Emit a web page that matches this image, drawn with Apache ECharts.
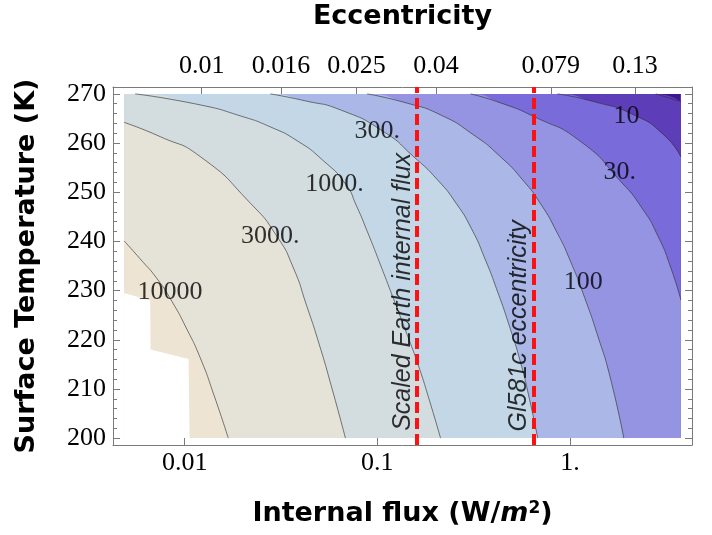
<!DOCTYPE html>
<html>
<head>
<meta charset="utf-8">
<script src="https://cdn.jsdelivr.net/npm/echarts@6/dist/echarts.min.js"></script>
<style>
html,body{margin:0;padding:0;background:#ffffff;}
#chart{width:712px;height:535px;}
</style>
</head>
<body>
<div id="chart"></div>
<script>
// ---------------- DATA ----------------
// Extent of the computed grid (internal flux in W/m^2, temperature in K)
const fluxRange = [0.004848, 3.762];
const tempRange = [200, 270];

// Contour lines: [internal flux, surface temperature]
const c10000 = [[0.004848,240.1],[0.005871,236.45],[0.007197,232.38],[0.008610,227.71],[0.01018,222.42],[0.01204,216.32],[0.01423,208.59],[0.01683,200]];
const c3000 = [[0.004848,264.2],[0.007461,261.3],[0.01204,257.25],[0.02189,247.8],[0.03014,241.0],[0.03664,234.62],[0.04280,227.10],[0.05001,218.96],[0.05842,209.8],[0.06827,200]];
const c1000 = [[0.005530,270],[0.01204,267.76],[0.01943,265.53],[0.02782,263.29],[0.03843,260.44],[0.05184,256.58],[0.06827,251.70],[0.07789,247.23],[0.08882,241.94],[0.1038,235.23],[0.1213,228.32],[0.1416,221.40],[0.1635,214.69],[0.1866,207.58],[0.2128,200]];
const c300 = [[0.02782,270],[0.04229,268.58],[0.06429,266.75],[0.1076,262.33],[0.1540,257.25],[0.2053,252.51],[0.2577,247.63],[0.3083,242.55],[0.3602,236.65],[0.4210,229.74],[0.4860,222.62],[0.5544,215.30],[0.6172,207.78],[0.6796,200]];
const c100 = [[0.08851,270],[0.1429,268.11],[0.2128,265.73],[0.3158,261.66],[0.4363,257.19],[0.5678,252.51],[0.7041,247.63],[0.8529,241.94],[1.0084,235.84],[1.1923,228.52],[1.3932,220.79],[1.6087,212.66],[1.9013,200]];
const c30 = [[0.3047,270],[0.4363,268.17],[0.6500,265.38],[1.1364,260.30],[1.8344,252.17],[2.359,246.82],[2.857,241.13],[3.337,234.62],[3.762,228.1]];
const c10 = [[0.8604,270],[1.3283,268.43],[2.143,265.73],[3.070,261.66],[3.762,257.19]];
const c3 = [[2.789,270],[3.762,268.43]];
// Region without data (white, lower left)
const noData = [[0.004848,229.5],[0.00662,228.0],[0.00665,218.0],[0.01047,216.1],[0.0106,200]];

// Contour labels: text and position [flux, temperature]
const contourLabelText = ['10000','3000.','1000.','300.','100','30.','10'];
const contourLabelPos = [[0.008377,229.74],[0.02782,240.98],[0.05984,251.70],[0.09977,262.48],[1.171,231.67],[1.813,254.14],[1.964,265.53]];

// Reference lines (internal flux, W/m^2) and their annotations
const refFlux = [0.1641, 0.6515];
const refText = ['Scaled Earth internal flux', 'Gl581c eccentricity'];
const refTextPos = [[0.1367,229.74],[0.5413,222.83]];

// Tick values and labels
const fluxTicks = [0.01, 0.1, 1];
const fluxTickLabels = ['0.01', '0.1', '1.'];
const eccTicks = [0.01, 0.016, 0.025, 0.04, 0.079, 0.13];
const eccTickLabels = ['0.01', '0.016', '0.025', '0.04', '0.079', '0.13'];
const tempTicks = [200, 210, 220, 230, 240, 250, 260, 270];
const tempTickLabels = ['200', '210', '220', '230', '240', '250', '260', '270'];

// ---------------- STYLE / LAYOUT ----------------
// fills from lowest-value region to highest-value region
const regionFills = ['#3d1690','#5d3db8','#7a6bda','#9594e3','#abb7e6','#c3d7e6','#d3dcde','#e5e3d8','#ede4d3'];
const frameColor = '#7a7a7a';
const serif = 'Liberation Serif';
const sans = 'DejaVu Sans';
const eccAxisExtent = [0.005916, 0.18216];
const SMOOTH = 0.6;

const lf0 = Math.log10(fluxRange[0]), lf1 = Math.log10(fluxRange[1]);
const lpad = 0.02 * (lf1 - lf0);
const xMin = Math.pow(10, lf0 - lpad), xMax = Math.pow(10, lf1 + lpad);
const tpad = 0.02 * (tempRange[1] - tempRange[0]);
const yMin = tempRange[0] - tpad, yMax = tempRange[1] + tpad;

const minorTemp = [];
for (let i = 0; i < tempTicks.length - 1; i++) {
  for (let k = 1; k < 5; k++) minorTemp.push(tempTicks[i] + k * (tempTicks[i+1] - tempTicks[i]) / 5);
}

function pickLabel(v, ticks, labels) {
  for (let i = 0; i < ticks.length; i++) {
    if (Math.abs(Math.log10(v) - Math.log10(ticks[i])) < 1e-4) return labels[i];
  }
  return '';
}

const contours = [c3, c10, c30, c100, c300, c1000, c3000, c10000];
const series = [];
function areaSeries(data, color, smooth) {
  return {
    type: 'line', data: data, symbol: 'none', smooth: smooth, silent: true, z: 1,
    xAxisIndex: 0, yAxisIndex: 0,
    lineStyle: {width: 0, opacity: 0},
    areaStyle: {color: color, opacity: 1, origin: tempRange[0]}
  };
}
// background: lowest-value region
series.push(areaSeries([[fluxRange[0], tempRange[1]], [fluxRange[1], tempRange[1]]], regionFills[0], false));
contours.forEach(function (c, i) {
  // area on the high-value side (below/left) of each contour
  const d = (c[0][1] >= tempRange[1]) ? [[fluxRange[0], tempRange[1]]].concat(c) : c;
  series.push(areaSeries(d, regionFills[i + 1], SMOOTH));
});
series.push(areaSeries(noData, '#ffffff', false));

contours.forEach(function (c) {
  series.push({
    type: 'line', data: c, symbol: 'none', smooth: SMOOTH, silent: true, z: 3,
    xAxisIndex: 0, yAxisIndex: 0,
    lineStyle: {color: 'rgba(45,45,45,0.62)', width: 1}
  });
});
series.push({
  type: 'line', data: [], xAxisIndex: 0, yAxisIndex: 0, z: 6,
  markLine: {
    silent: true, symbol: ['none', 'none'], label: {show: false},
    lineStyle: {color: '#ff1111', width: 4, type: [11, 5], opacity: 1},
    emphasis: {disabled: true},
    data: refFlux.map(v => ({xAxis: v}))
  }
});
series.push({
  type: 'scatter', xAxisIndex: 0, yAxisIndex: 0, z: 5, silent: true,
  symbol: 'circle', symbolSize: 1, itemStyle: {color: 'transparent'},
  data: contourLabelPos.map((p, i) => ({value: p, name: contourLabelText[i]})),
  label: {show: true, position: 'inside', formatter: '{b}', fontFamily: serif, fontSize: 26, color: '#000', textBorderWidth: 0}
});
series.push({
  type: 'scatter', xAxisIndex: 0, yAxisIndex: 0, z: 5, silent: true,
  symbol: 'circle', symbolSize: 1, itemStyle: {color: 'transparent'},
  data: refTextPos.map((p, i) => ({value: p, name: refText[i]})),
  label: {show: true, position: 'inside', rotate: 90, formatter: '{b}', fontFamily: 'Liberation Sans', fontStyle: 'italic', fontSize: 25, color: '#000', textBorderWidth: 0}
});

const tickStyle = {color: frameColor, width: 1};
const lineStyle = {color: frameColor, width: 1};

const chart = echarts.init(document.getElementById('chart'), null, {renderer: 'canvas'});
const option = {
  animation: false,
  backgroundColor: '#ffffff',
  grid: {left: 113, top: 87, width: 579, height: 358, containLabel: false, outerBoundsMode: 'none'},
  xAxis: [
    {
      type: 'log', logBase: 10, position: 'bottom', min: xMin, max: xMax,
      axisLine: {show: true, onZero: false, lineStyle: lineStyle},
      axisTick: {show: true, inside: true, length: 7, customValues: fluxTicks, lineStyle: tickStyle},
      axisLabel: {show: true, customValues: fluxTicks, margin: 5, hideOverlap: false,
        formatter: v => pickLabel(v, fluxTicks, fluxTickLabels),
        fontFamily: serif, fontSize: 26, color: '#000'},
      splitLine: {show: false}, minorTick: {show: false},
      name: '{a|Internal flux (W/}{i|m}{s|2}{a|)}',
      nameLocation: 'middle', nameGap: 55,
      nameTextStyle: {
        fontFamily: sans, fontWeight: 'bold', fontSize: 27, color: '#000',
        rich: {
          a: {fontFamily: sans, fontWeight: 'bold', fontSize: 27, color: '#000'},
          i: {fontFamily: sans, fontWeight: 'bold', fontStyle: 'italic', fontSize: 27, color: '#000'},
          s: {fontFamily: sans, fontWeight: 'bold', fontSize: 17, color: '#000', verticalAlign: 'top'}
        }
      }
    },
    {
      type: 'log', logBase: 10, position: 'top', min: eccAxisExtent[0], max: eccAxisExtent[1],
      axisLine: {show: true, onZero: false, lineStyle: lineStyle},
      axisTick: {show: true, inside: true, length: 7, customValues: eccTicks, lineStyle: tickStyle},
      axisLabel: {show: true, customValues: eccTicks, margin: 8, hideOverlap: false,
        formatter: v => pickLabel(v, eccTicks, eccTickLabels),
        fontFamily: serif, fontSize: 26, color: '#000'},
      splitLine: {show: false}, minorTick: {show: false},
      name: 'Eccentricity', nameLocation: 'middle', nameGap: 57,
      nameTextStyle: {fontFamily: sans, fontWeight: 'bold', fontSize: 27, color: '#000'}
    }
  ],
  yAxis: [
    {
      type: 'value', position: 'left', min: yMin, max: yMax,
      axisLine: {show: true, onZero: false, lineStyle: lineStyle},
      axisTick: {show: true, inside: true, length: 7, customValues: tempTicks, lineStyle: tickStyle},
      axisLabel: {show: true, customValues: tempTicks, margin: 7, hideOverlap: false,
        formatter: v => tempTickLabels[tempTicks.indexOf(Math.round(v))],
        fontFamily: serif, fontSize: 26, color: '#000'},
      splitLine: {show: false},
      name: 'Surface Temperature (K)', nameLocation: 'middle', nameGap: 73, nameRotate: 90,
      nameTextStyle: {fontFamily: sans, fontWeight: 'bold', fontSize: 27, color: '#000'}
    },
    {
      type: 'value', position: 'left', min: yMin, max: yMax,
      axisLine: {show: false},
      axisTick: {show: true, inside: true, length: 4, customValues: minorTemp, lineStyle: tickStyle},
      axisLabel: {show: false}, splitLine: {show: false}
    },
    {
      type: 'value', position: 'right', min: yMin, max: yMax,
      axisLine: {show: true, onZero: false, lineStyle: lineStyle},
      axisTick: {show: true, inside: true, length: 7, customValues: tempTicks, lineStyle: tickStyle},
      axisLabel: {show: false}, splitLine: {show: false}
    },
    {
      type: 'value', position: 'right', min: yMin, max: yMax,
      axisLine: {show: false},
      axisTick: {show: true, inside: true, length: 4, customValues: minorTemp, lineStyle: tickStyle},
      axisLabel: {show: false}, splitLine: {show: false}
    }
  ],
  series: series
};
chart.setOption(option);
</script>
</body>
</html>
